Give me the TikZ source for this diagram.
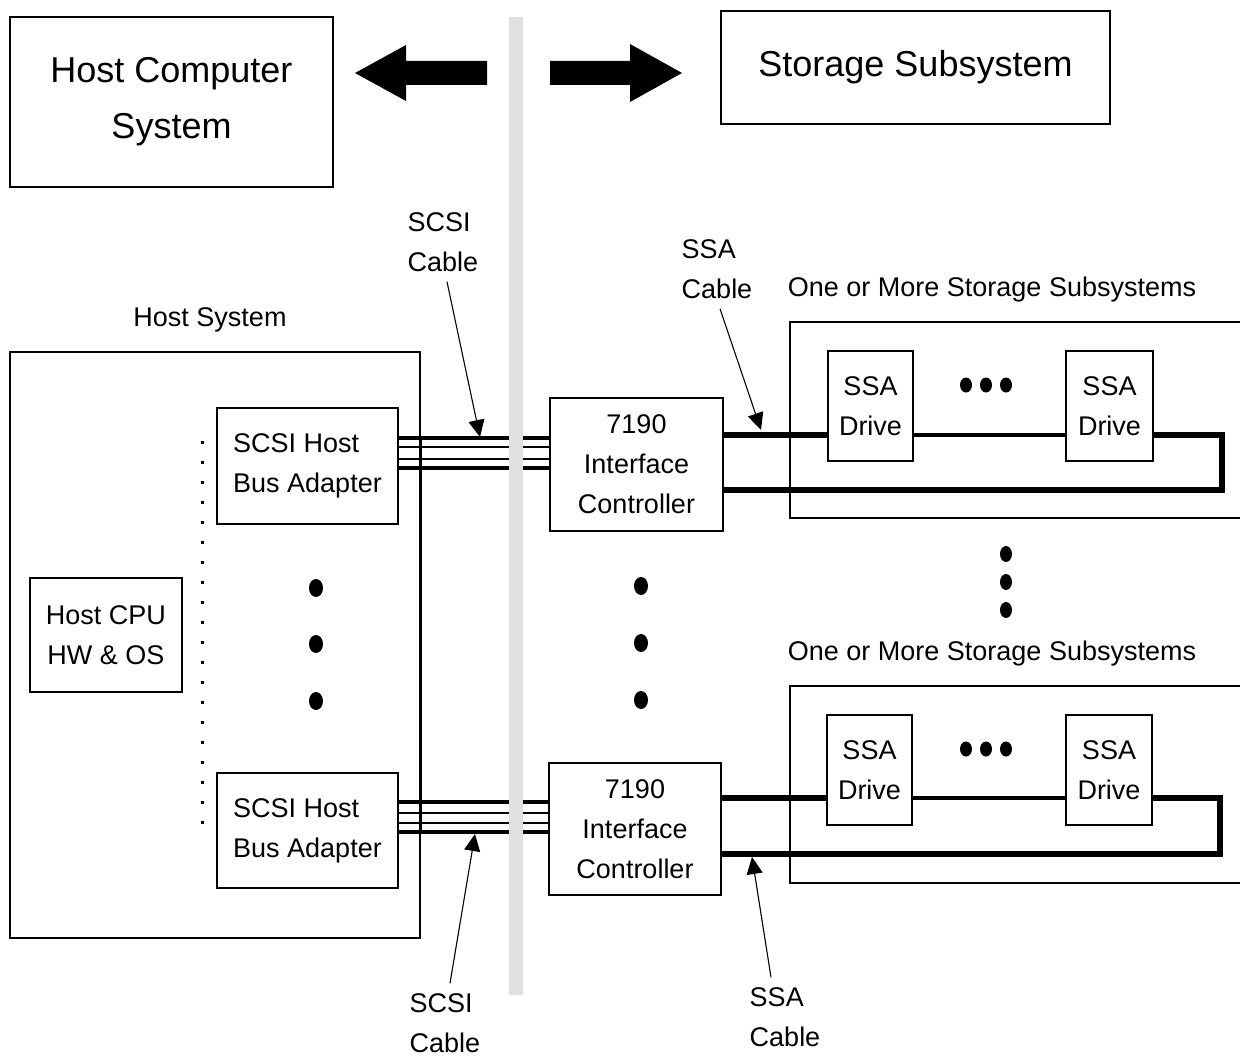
\documentclass[tikz,border=0pt]{standalone}
\usepackage{fontspec}
\setmainfont{Liberation Sans}
\usetikzlibrary{arrows.meta,calc}
\newcommand{\dgbody}{\fontsize{27}{40}\selectfont}
\newcommand{\dgbig}{\fontsize{36}{56}\selectfont}
\begin{document}
\begin{tikzpicture}[x=1pt,y=-1pt,
  bigbox/.style={draw,line width=1.6pt,inner sep=0pt,align=center,font=\dgbig},
  unit/.style={draw,line width=2pt,inner sep=0pt,align=center,font=\dgbody},
  frame/.style={draw,line width=1.6pt},
  lbl/.style={inner sep=0pt,font=\dgbody},
  wirethick/.style={line width=4.5pt},
  wirethin/.style={line width=1.8pt},
  ssaloop/.style={line width=6pt,line join=miter},
  ssalink/.style={line width=4.5pt},
  bus/.style={line width=3.2pt},
  callout/.style={line width=1.1pt,-{Triangle[length=17pt,width=16pt]}},
  fatarrow/.style={fill=black},
  divider/.style={fill=black!12},
  dot/.style={fill=black}
]
\useasboundingbox (0,0) rectangle (1240,1057);

% ---- top row: the two sides of the interface ----
\node[bigbox,minimum width=323pt,minimum height=170pt] (hcs) at (171.5,102) {Host Computer\\System};
\node[bigbox,minimum width=389pt,minimum height=113pt] (sss) at (915.5,67.5) {Storage Subsystem};
\fill[fatarrow] (355,73) -- (406,45) -- (406,61) -- (487,61) -- (487,85) -- (406,85) -- (406,101) -- cycle;
\fill[fatarrow] (682,73) -- (630,44) -- (630,61) -- (550,61) -- (550,85) -- (630,85) -- (630,102) -- cycle;

% ---- host side ----
\node[lbl] (hslbl) at (210,320) {Host System};
\node[frame,minimum width=410pt,minimum height=586pt,inner sep=0pt] (hostsys) at (215,645) {};
\node[unit,minimum width=152pt,minimum height=114pt] (cpu) at (106,635) {Host CPU\\HW \& OS};
\node[unit,minimum width=181pt,minimum height=116pt,align=left] (hba1) at (307.5,466) {SCSI Host\\Bus Adapter};
\node[unit,minimum width=181pt,minimum height=115pt,align=left] (hba2) at (307.5,830.5) {SCSI Host\\Bus Adapter};
\draw[line width=3pt,dash pattern=on 3pt off 17pt] (202,441) -- (202,830);
\draw[bus] (hostsys.east |- 0,438) -- (hostsys.east |- 0,832);

% ---- interface controllers ----
\node[unit,minimum width=173pt,minimum height=133pt] (ctl1) at (636.5,464.5) {7190\\Interface\\Controller};
\node[unit,minimum width=172pt,minimum height=132pt] (ctl2) at (635,829) {7190\\Interface\\Controller};

% ---- SCSI cables ----
\foreach \yy/\st in {438/wirethick,447/wirethin,459/wirethin,468/wirethick}
  \draw[\st] (hba1.east |- 0,\yy) -- (ctl1.west |- 0,\yy);
\foreach \yy/\st in {802/wirethick,813/wirethin,823/wirethin,832/wirethick}
  \draw[\st] (hba2.east |- 0,\yy) -- (ctl2.west |- 0,\yy);

% ---- storage subsystems ----
\node[lbl] (oom1) at (992,290) {One or More Storage Subsystems};
\node[lbl] (oom2) at (992,654) {One or More Storage Subsystems};
\draw[frame] (1245,322) -- (790,322) -- (790,518) -- (1245,518);
\draw[frame] (1245,686) -- (790,686) -- (790,883) -- (1245,883);
\node[unit,minimum width=85pt,minimum height=110pt] (d1) at (870.5,406) {SSA\\Drive};
\node[unit,minimum width=87pt,minimum height=110pt] (d2) at (1109.5,406) {SSA\\Drive};
\node[unit,minimum width=85pt,minimum height=110pt] (d3) at (869.5,770) {SSA\\Drive};
\node[unit,minimum width=86pt,minimum height=110pt] (d4) at (1109,770) {SSA\\Drive};

% ---- SSA loops ----
\draw[ssaloop] (ctl1.east |- 0,435) -- (d1.west |- 0,435);
\draw[ssalink] (d1.east |- 0,435) -- (d2.west |- 0,435);
\draw[ssaloop] (d2.east |- 0,435) -| (1222,490) -- (ctl1.east |- 0,490);
\draw[ssaloop] (ctl2.east |- 0,798) -- (d3.west |- 0,798);
\draw[ssalink] (d3.east |- 0,798) -- (d4.west |- 0,798);
\draw[ssaloop] (d4.east |- 0,798) -| (1220,854) -- (ctl2.east |- 0,854);

% ---- divider between host and storage side ----
\fill[divider] (509,17) rectangle (523,995);

% ---- ellipsis dots ----
\foreach \yy in {588,644,701} \fill[dot] (316,\yy) ellipse [x radius=7pt,y radius=9pt];
\foreach \yy in {586,643,700} \fill[dot] (641,\yy) ellipse [x radius=7pt,y radius=9pt];
\foreach \yy in {554,582,610} \fill[dot] (1006,\yy) ellipse [x radius=6pt,y radius=8pt];
\foreach \xx in {966,986,1006} {
  \fill[dot] (\xx,385) ellipse [x radius=6pt,y radius=7.5pt];
  \fill[dot] (\xx,749) ellipse [x radius=6pt,y radius=7.5pt];
}

% ---- cable callouts ----
\node[lbl,align=left] (scsiA) at (443,242) {SCSI\\Cable};
\node[lbl,align=left] (ssaA) at (717,269) {SSA\\Cable};
\node[lbl,align=left] (scsiB) at (445,1023) {SCSI\\Cable};
\node[lbl,align=left] (ssaB) at (785,1017) {SSA\\Cable};
\coordinate (tipA) at (480,437);
\coordinate (tipB) at (761,430);
\coordinate (tipC) at (475,834);
\coordinate (tipD) at (752,857);
\draw[callout] ($(scsiA.south)+(4,10)$) -- (tipA);
\draw[callout] ($(ssaA.south)+(3,10)$) -- (tipB);
\draw[callout] ($(scsiB.north)+(5,-10)$) -- (tipC);
\draw[callout] ($(ssaB.north)+(-14,-10)$) -- (tipD);
\end{tikzpicture}
\end{document}
